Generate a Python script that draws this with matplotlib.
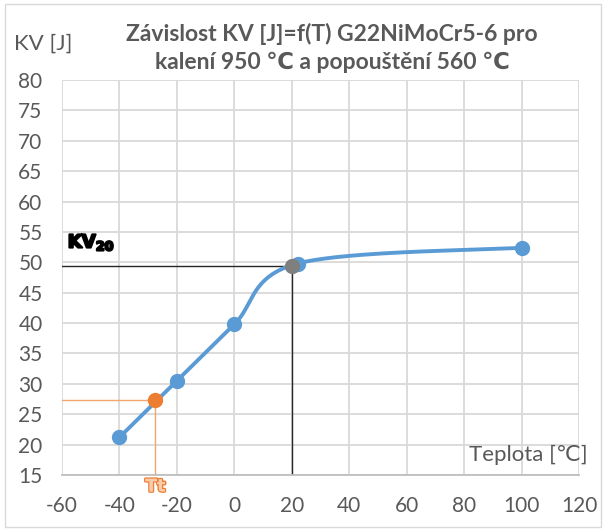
import numpy as np
import matplotlib
matplotlib.use("Agg")
import matplotlib.pyplot as plt
import matplotlib.patheffects as pe
from matplotlib.patches import Rectangle

plt.rcParams['font.family'] = ['Lato', 'DejaVu Sans']
plt.rcParams['axes.unicode_minus'] = False

# Data
temps = [-40, -20, 0, 22, 100]
kv = [21.2, 30.5, 39.8, 49.8, 52.4]
kv20_t, kv20_v = 20, 49.4
tt_t, tt_v = -27.5, 27.3
x_ticks = [-60, -40, -20, 0, 20, 40, 60, 80, 100, 120]
y_ticks = [15, 20, 25, 30, 35, 40, 45, 50, 55, 60, 65, 70, 75, 80]

title = "Závislost KV [J]=f(T) G22NiMoCr5-6 pro\nkalení 950 ℃ a popouštění 560 ℃"
ylabel = "KV [J]"
xlabel = "Teplota [℃]"

GRAY = "#595959"
BLUE = "#5B9BD5"
ORANGE = "#ED7D31"


def smooth(xs, ys, n=40):
    p = np.column_stack([xs, ys]).astype(float)
    out = []
    for i in range(len(p) - 1):
        p0 = p[i - 1] if i > 0 else p[i]
        p1 = p[i]
        p2 = p[i + 1]
        p3 = p[i + 2] if i + 2 < len(p) else p[i + 1]
        c1 = p1 + (p2 - p0) / 6
        c2 = p2 - (p3 - p1) / 6
        t = np.linspace(0, 1, n)[:, None]
        seg = ((1 - t) ** 3) * p1 + 3 * ((1 - t) ** 2) * t * c1 + 3 * (1 - t) * t ** 2 * c2 + t ** 3 * p2
        out.append(seg if i == 0 else seg[1:])
    s = np.vstack(out)
    return s[:, 0], s[:, 1]


fig = plt.figure(figsize=(6.06, 5.31), dpi=100)
fig.patches.append(Rectangle((0.008, 0.008), 0.984, 0.984, transform=fig.transFigure,
                             fill=False, edgecolor="#d9d9d9", linewidth=1))
ax = fig.add_axes([62 / 606, 1 - 475 / 531, (579 - 62) / 606, (475 - 80) / 531])

ax.set_xlim(-60, 120)
ax.set_ylim(15, 80)
ax.set_xticks(x_ticks)
ax.set_yticks(y_ticks)
ax.grid(True, color="#d9d9d9", linewidth=1.3)
ax.set_axisbelow(True)
for s in ["top", "right", "left"]:
    ax.spines[s].set_visible(False)
ax.spines["bottom"].set_color("#bfbfbf")
ax.spines["bottom"].set_linewidth(1.3)
ax.tick_params(length=0, labelsize=15, colors=GRAY)
ax.tick_params(axis='x', pad=15)
ax.tick_params(axis='y', pad=14)

# reference lines
ax.plot([-60, kv20_t], [kv20_v, kv20_v], color="#262626", lw=1.0, zorder=2)
ax.plot([kv20_t, kv20_t], [15, kv20_v], color="#262626", lw=1.0, zorder=2)
ax.plot([-60, tt_t], [tt_v, tt_v], color="#F4A56B", lw=1.0, zorder=2)
ax.plot([tt_t, tt_t], [15, tt_v], color="#F4A56B", lw=1.0, zorder=2)

sx, sy = smooth(temps, kv)
ax.plot(sx, sy, color=BLUE, lw=2.8, zorder=3, solid_capstyle='round')
ax.plot(temps, kv, 'o', color=BLUE, ms=10, zorder=4)
ax.plot([kv20_t], [kv20_v], 'o', color="#7F7F7F", ms=10, zorder=5)
ax.plot([tt_t], [tt_v], 'o', color=ORANGE, ms=10, zorder=5)

ax.text(-58, 51.6, "KV$_{\\mathbf{20}}$", fontsize=13, fontweight='bold', color='black',
        family=['DejaVu Sans'], va='bottom', ha='left',
        path_effects=[pe.withStroke(linewidth=1.5, foreground='black')])
ax.text(tt_t, 14.6, "Tt", fontsize=12.5, fontweight='bold', color="#F8CBAD", ha='center', va='top',
        family=['DejaVu Sans'], clip_on=False,
        path_effects=[pe.withStroke(linewidth=2, foreground=ORANGE), pe.Normal()])

fig.text(588 / 606, 1 - 455 / 531, xlabel, fontsize=16, color=GRAY, ha='right', va='center')
fig.text(14 / 606, 1 - 44 / 531, ylabel, fontsize=16, color=GRAY, ha='left', va='center')
fig.text(332 / 606, 1 - 48 / 531, title, fontsize=16.5, fontweight='bold', color=GRAY,
         ha='center', va='center', linespacing=1.35)

fig.savefig("out.png", dpi=100)
